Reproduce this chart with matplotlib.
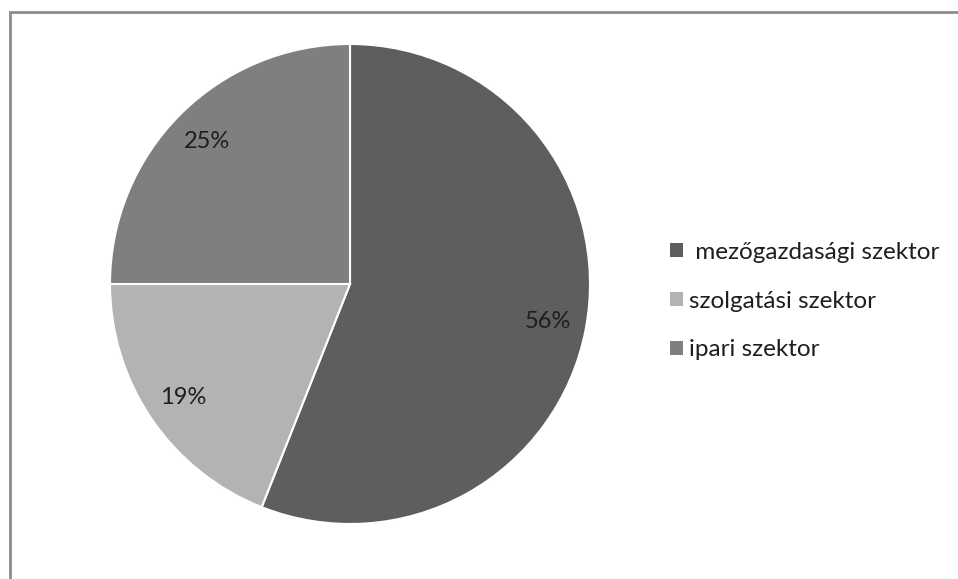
import matplotlib.pyplot as plt
from matplotlib.patches import Rectangle, Patch

plt.rcParams['font.family'] = ['Lato', 'DejaVu Sans']

sectors = ["mezőgazdasági szektor", "szolgatási szektor", "ipari szektor"]
shares = [56, 19, 25]
colors = ["#5e5e5e", "#b3b3b3", "#7f7f7f"]

W, H = 958, 579
fig = plt.figure(figsize=(W / 100, H / 100), dpi=100)
fig.patch.set_facecolor("white")

# outer chart frame (cut off at right and bottom)
fig.add_artist(Rectangle((10 / W, -0.01), 1.0, (H - 12) / H + 0.01,
                         transform=fig.transFigure, fill=False,
                         edgecolor="#8c8c8c", linewidth=2))

ax = fig.add_axes([110 / W, 55 / H, 480 / W, 480 / H])
wedges, texts, autotexts = ax.pie(
    shares, colors=colors, startangle=90, counterclock=False,
    autopct="%d%%", pctdistance=0.84,
    wedgeprops=dict(edgecolor="white", linewidth=1.5),
    textprops=dict(fontsize=17, color="#1e1e1e"))
ax.set_xlim(-1, 1)
ax.set_ylim(-1, 1)
ax.set_aspect("equal")

handles = [Patch(facecolor=c, edgecolor="none") for c in colors]
fig.legend(handles, [" " + sectors[0], sectors[1], sectors[2]],
           loc="center left", bbox_to_anchor=(648 / W, 1 - 301 / H),
           frameon=False, fontsize=17.5, handlelength=0.55, handleheight=0.55,
           handletextpad=0.25, labelspacing=1.15, labelcolor="#1e1e1e")

fig.savefig("out.png", dpi=100)
